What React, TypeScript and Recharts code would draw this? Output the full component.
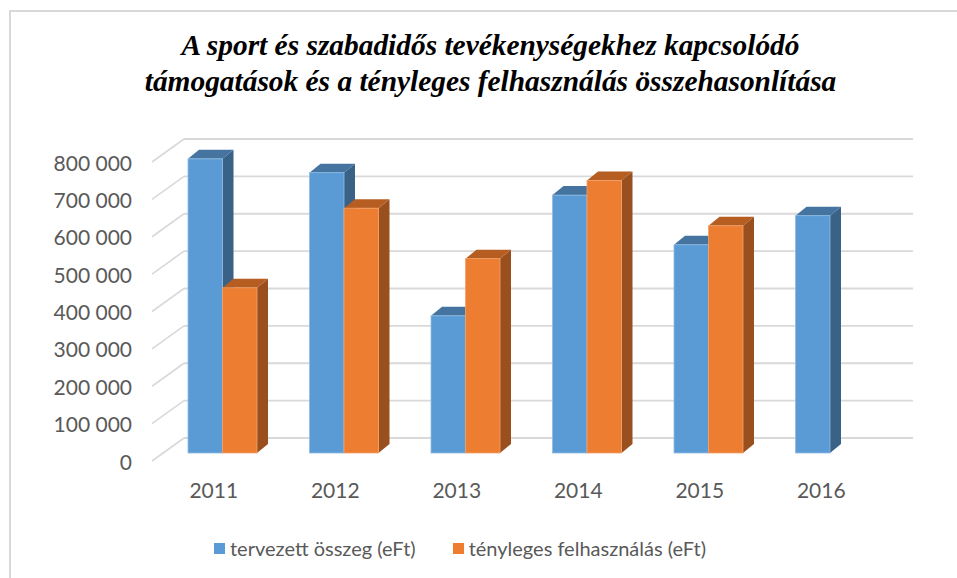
import React from 'react';
import { BarChart, Bar, XAxis, YAxis, CartesianGrid } from 'recharts';

const years = ['2011', '2012', '2013', '2014', '2015', '2016'];
const planned = [787000, 750000, 367000, 690000, 557000, 635000];
const actual: (number | null)[] = [442000, 655000, 520000, 729000, 608000, null];
const yTicks = [0, 100000, 200000, 300000, 400000, 500000, 600000, 700000, 800000];
const seriesNames = ['tervezett összeg (eFt)', 'tényleges felhasználás (eFt)'];
const titleLines = [
  'A sport és szabadidős tevékenységekhez kapcsolódó',
  'támogatások és a tényleges felhasználás összehasonlítása',
];

const data = years.map((y, i) => ({ year: y, planned: planned[i], actual: actual[i] }));

const BLUE = { front: '#5b9bd5', top: '#4574a1', side: '#3a6186', edge: '#8fbbe3' };
const ORANGE = { front: '#ed7d31', top: '#b65d22', side: '#9a4f1f', edge: '#f2a26c' };

const DX = 11;
const DY = 9;

const makeShape = (c: { front: string; top: string; side: string; edge: string }) => (props: any) => {
  const { x, y, width, height } = props;
  if (x == null || y == null || !width || height == null) return <g />;
  return (
    <g>
      <polygon
        points={`${x + width},${y} ${x + width + DX},${y - DY} ${x + width + DX},${y + height - DY} ${x + width},${y + height}`}
        fill={c.side}
      />
      <polygon
        points={`${x},${y} ${x + DX},${y - DY} ${x + width + DX},${y - DY} ${x + width},${y}`}
        fill={c.top}
      />
      <rect x={x} y={y} width={width} height={height} fill={c.front} stroke={c.edge} strokeWidth={0.8} />
    </g>
  );
};

const gridLine = (props: any) => {
  const { x1, x2, y1, index } = props;
  return (
    <g key={`gl-${index}`}>
      <line x1={x1 - 10} y1={y1 + 8} x2={x1 + 22} y2={y1 - 15} stroke="#d9d9d9" strokeWidth={1.6} />
      <line x1={x1 + 22} y1={y1 - 15} x2={x2 + 22} y2={y1 - 15} stroke="#d9d9d9" strokeWidth={1.8} />
    </g>
  );
};

const fmt = (v: number) => String(v).replace(/\B(?=(\d{3})+(?!\d))/g, ' ');

const YTick = (props: any) => {
  const { x, y, payload } = props;
  return (
    <text x={x - 22} y={y + 8} textAnchor="end" dominantBaseline="central" fill="#595959" fontSize={21} fontFamily="Lato">
      {fmt(payload.value)}
    </text>
  );
};

const XTick = (props: any) => {
  const { x, y, payload } = props;
  return (
    <text x={x - 9} y={y + 28} textAnchor="middle" dominantBaseline="central" fill="#595959" fontSize={21} fontFamily="Lato">
      {payload.value}
    </text>
  );
};

export default function App() {
  return (
    <div style={{ position: 'absolute', left: 0, top: 0, width: 957, height: 578, overflow: 'hidden', background: '#fff' }}>
      <div
        style={{
          position: 'absolute',
          left: 9,
          top: 10,
          width: 1000,
          height: 700,
          border: '2px solid #d9d9d9',
          boxSizing: 'border-box',
        }}
      />
      <div
        style={{
          position: 'absolute',
          left: 12,
          top: 27,
          width: 957,
          textAlign: 'center',
          fontFamily: '"Liberation Serif", serif',
          fontStyle: 'italic',
          fontWeight: 'bold',
          fontSize: 29.4,
          lineHeight: '36px',
          color: '#000',
          whiteSpace: 'nowrap',
        }}
      >
        {titleLines.map((l) => (
          <div key={l}>{l}</div>
        ))}
      </div>
      <div style={{ position: 'absolute', left: 0, top: 0 }}>
        <BarChart
          width={957}
          height={578}
          data={data}
          margin={{ top: 154, right: 66, bottom: 95, left: 0 }}
          barGap={0}
          barSize={34.5}
        >
          <CartesianGrid vertical={false} horizontal={gridLine} />
          <XAxis dataKey="year" axisLine={false} tickLine={false} height={30} tick={<XTick />} interval={0} />
          <YAxis
            domain={[0, 800000]}
            ticks={yTicks}
            axisLine={false}
            tickLine={false}
            width={162}
            tick={<YTick />}
            interval={0}
          />
          <Bar dataKey="planned" name={seriesNames[0]} fill={BLUE.front} shape={makeShape(BLUE)} isAnimationActive={false} />
          <Bar dataKey="actual" name={seriesNames[1]} fill={ORANGE.front} shape={makeShape(ORANGE)} isAnimationActive={false} />
        </BarChart>
      </div>
      <div
        style={{
          position: 'absolute',
          left: 214,
          top: 536,
          display: 'flex',
          alignItems: 'center',
          fontFamily: 'Lato',
          fontSize: 20,
          color: '#595959',
          whiteSpace: 'nowrap',
        }}
      >
        {seriesNames.map((n, i) => (
          <div key={n} style={{ display: 'flex', alignItems: 'center', marginRight: 37 }}>
            <span
              style={{
                display: 'inline-block',
                width: 11,
                height: 11,
                background: i === 0 ? BLUE.front : ORANGE.front,
                marginRight: 5,
              }}
            />
            <span>{n}</span>
          </div>
        ))}
      </div>
    </div>
  );
}
